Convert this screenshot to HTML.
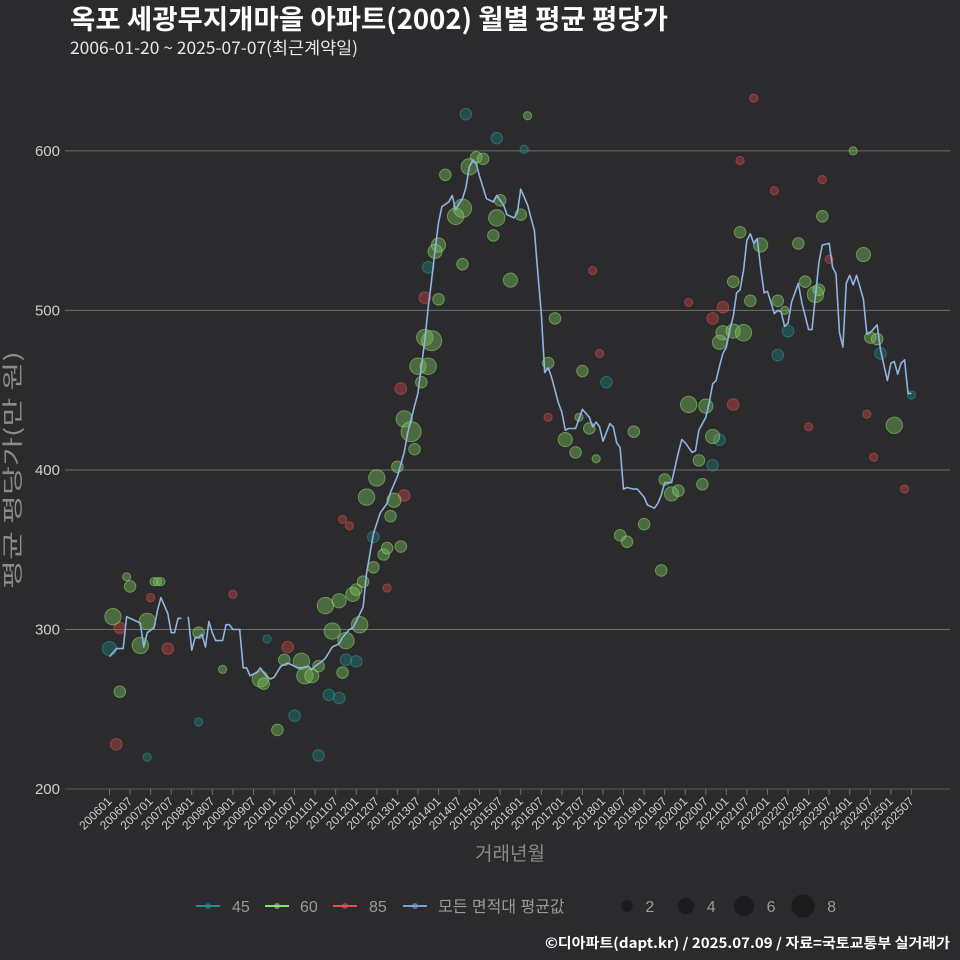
<!DOCTYPE html>
<html><head><meta charset="utf-8">
<style>
html,body{margin:0;padding:0;background:#2b2a2c;}
svg{display:block;font-family:"Liberation Sans","Noto Sans CJK KR",sans-serif;}
</style></head>
<body>
<svg id="chart" width="960" height="960" viewBox="0 0 960 960">
<rect x="0" y="0" width="960" height="960" fill="#2b2a2c"/>
<text x="70" y="29" fill="#ffffff" font-size="27" font-weight="bold" textLength="598" lengthAdjust="spacingAndGlyphs" font-family="Noto Sans CJK KR, sans-serif">옥포 세광무지개마을 아파트(2002) 월별 평균 평당가</text>
<text x="70" y="54" fill="#e8e8e8" font-size="17" textLength="288" lengthAdjust="spacingAndGlyphs" font-family="Noto Sans CJK KR, sans-serif">2006-01-20 ~ 2025-07-07(최근계약일)</text>
<g id="grid"></g>
<g id="xaxis"></g>
<g id="points"></g>
<g id="line"></g>
<text x="20" y="470" fill="#8a8a8a" font-size="21" text-anchor="middle" textLength="238" lengthAdjust="spacingAndGlyphs" transform="rotate(-90 20 470)" font-family="Noto Sans CJK KR, sans-serif">평균 평당가(만 원)</text>
<text x="510" y="860" fill="#8a8a8a" font-size="19" text-anchor="middle" font-family="Noto Sans CJK KR, sans-serif">거래년월</text>
<g id="legend"></g>
<text x="950" y="948" fill="#ffffff" font-size="14" font-weight="bold" text-anchor="end" textLength="405" lengthAdjust="spacingAndGlyphs" font-family="Noto Sans CJK KR, sans-serif">©디아파트(dapt.kr) / 2025.07.09 / 자료=국토교통부 실거래가</text>
</svg>
<script>
// ---- data ----
const yTicks = [200, 300, 400, 500, 600];
const xTickLabels = ["200601","200607","200701","200707","200801","200807","200901","200907","201001","201007","201101","201107","201201","201207","201301","201307","201401","201407","201501","201507","201601","201607","201701","201707","201801","201807","201901","201907","202001","202007","202101","202107","202201","202207","202301","202307","202401","202407","202501","202507"];
// average line: month offset from 2006-01, value (null = gap)
const lineMonths = [0,2,4,5,7,9,10,11,13,14,15,17,18,19,20,21,22,23,24,25,26,27,28,29,30,31,33,34,35,36,38,39,40,41,43,44,46,47,48,50,52,53,55,56,58,59,60,62,63,65,67,68,70,71,72,74,75,77,79,81,82,84,86,87,89,90,91,92,93,94,95,96,97,99,100,101,102,103,104,105,106,107,108,110,112,113,115,116,118,119,120,121,122,124,125,126,127,128,129,131,132,133,134,136,138,140,141,142,143,144,146,147,148,149,150,151,153,154,156,157,159,160,161,162,164,166,167,168,170,171,172,174,175,176,177,178,179,180,181,182,183,184,185,186,187,188,189,190,191,192,194,195,196,197,198,199,201,202,204,205,207,208,210,211,212,213,214,215,216,217,218,220,221,222,224,225,227,228,229,230,231,232,233,234];
const lineValues = [283,288,288,308,306,304,289,298,301,312,320,310,298,298,307,307,null,308,287,295,295,297,289,305,298,293,293,303,303,300,300,276,276,271,273,276,270,269,270,277,279,278,276,276,277,275,277,280,282,289,291,295,300,301,305,314,335,360,373,379,386,396,411,423,440,448,465,481,502,519,538,555,565,568,572,563,567,570,577,590,594,592,584,570,568,572,566,560,558,561,576,571,566,550,523,498,461,464,458,442,436,425,426,426,438,433,427,430,427,418,429,427,417,414,388,389,388,388,383,378,376,379,384,392,392,411,419,417,411,412,425,433,442,454,456,465,473,477,488,496,511,513,525,544,548,542,545,527,511,512,498,500,499,490,492,505,517,505,488,488,530,541,542,527,523,486,477,517,522,516,522,507,485,486,491,475,456,467,468,460,467,469,448,448];
// scatter: size group 45
const p45Months = [0,11,26,46,54,61,64,67,69,72,77,93,104,113,121,145,176,178,195,198,225,234];
const p45Values = [288,220,242,294,246,221,259,257,281,280,358,527,623,608,601,455,403,419,472,487,473,447];
const p45Counts = [3,1,1,1,2,2,2,2,2,2,2,2,2,2,1,2,2,2,2,2,2,1];
// size group 60
const p60Months = [1,3,6,5,11,9,13,14,15,26,33,44,45,49,51,56,57,59,61,63,65,67,68,69,71,72,73,74,75,77,78,80,81,82,83,84,85,86,88,89,90,91,92,94,93,96,96,95,98,101,103,103,105,107,109,112,113,114,117,120,122,128,130,133,136,137,138,140,142,149,151,153,156,161,162,164,166,169,172,174,173,176,178,179,182,185,184,182,187,190,195,197,201,203,206,207,208,220,222,224,229,217];
const p60Values = [308,261,327,333,305,290,330,330,330,298,275,269,266,237,281,280,271,271,277,315,299,318,273,293,322,325,303,330,383,339,395,347,351,371,381,402,352,432,424,413,465,455,483,481,465,507,541,537,585,559,564,529,590,596,595,547,558,569,519,560,622,467,495,419,411,433,462,426,407,359,355,424,366,337,394,385,387,441,406,440,391,421,480,486,487,486,549,518,506,541,506,500,542,518,510,513,559,535,483,482,428,600];
const p60Counts = [4,2,2,1,4,4,1,1,1,2,1,4,2,2,2,4,4,3,2,4,4,3,2,4,3,2,4,2,4,2,4,2,2,2,3,2,2,4,6,2,4,2,4,6,4,2,3,3,2,4,5,2,4,2,2,2,4,2,3,2,1,2,2,3,2,1,2,2,1,2,2,2,2,2,2,3,2,4,2,3,2,3,3,3,3,4,2,2,2,3,2,1,2,2,4,2,2,3,2,2,4,1];
// size group 85
const p85Months = [2,3,17,12,36,52,68,70,81,86,85,92,128,141,143,169,176,179,182,184,188,194,208,210,204,221,223,232];
const p85Values = [228,301,288,320,322,289,369,365,326,384,451,508,433,525,473,505,495,502,441,594,633,575,582,532,427,435,408,388];
const p85Counts = [2,2,2,1,1,2,1,1,1,2,2,2,1,1,1,1,2,2,2,1,1,1,1,1,1,1,1,1];
const legendSizes = [2,4,6,8];

// ---- scales ----
const X0 = 109.5, XSTEP = 3.427;
function xScale(m){ return X0 + m*XSTEP; }
function yScale(v){ return 789 - (v-200)*1.5953; }
function rScale(n){ return 4.1*Math.sqrt(n); }
const NS = "http://www.w3.org/2000/svg";
function mk(tag, attrs, parent){ const e=document.createElementNS(NS,tag); for(const k in attrs) e.setAttribute(k,attrs[k]); parent.appendChild(e); return e; }

const grid = document.getElementById('grid');
yTicks.forEach(t=>{
  const y = yScale(t);
  const l = mk('line',{x1:65,x2:950,y1:y,y2:y,stroke:t===200?'#5a5a5a':'#6e6e6e','stroke-width':1},grid);
  
  
  const tx = mk('text',{x:60,y:y+5,fill:'#cfcfcf','font-size':15,'text-anchor':'end'},grid);
  tx.textContent = t;
  
  
});
const xg = document.getElementById('xaxis');
xTickLabels.forEach((lab,i)=>{
  const x = xScale(i*6);
  const tk = mk('line',{x1:x,x2:x,y1:789,y2:795,stroke:'#6e6e6e'},xg);
  
  
  const tx = mk('text',{x:x+3,y:802,fill:'#cfcfcf','font-size':12,'text-anchor':'end',transform:`rotate(-45 ${x+3} 802)`},xg);
  tx.textContent = lab;
  
  
});
const pg = document.getElementById('points');
function drawPts(ms, vs, ns, fill, stroke, name){
  ms.forEach((m,i)=>{
    const c = mk('circle',{cx:xScale(m),cy:yScale(vs[i]),r:rScale(ns[i]),fill:fill,'fill-opacity':0.42,stroke:stroke,'stroke-opacity':0.5,'stroke-width':1},pg);
    
    
  });
}
drawPts(p45Months,p45Values,p45Counts,'#1f7f7f','#2aa3a0','point-45');
drawPts(p85Months,p85Values,p85Counts,'#c84545','#e05656','point-85');
drawPts(p60Months,p60Values,p60Counts,'#79c35a','#9be07c','point-60');
const lg = document.getElementById('line');
let d='', pen=false;
lineMonths.forEach((m,i)=>{
  const v=lineValues[i];
  if(v===null){pen=false;return;}
  d += (pen?'L':'M')+xScale(m).toFixed(1)+' '+yScale(v).toFixed(1)+' ';
  pen=true;
});
const path = mk('path',{d:d,fill:'none',stroke:'#8fb4e0','stroke-width':1.6,'stroke-linejoin':'round'},lg);


const leg = document.getElementById('legend');
const legItems = [['45','#1f8f8c',196,232],['60','#8ee06a',265,300],['85','#e05050',333,369],['모든 면적대 평균값','#7aa0d0',403,438]];
legItems.forEach(it=>{
  const g = mk('g',{},leg);
  
  
  mk('line',{x1:it[2],x2:it[2]+24,y1:906,y2:906,stroke:it[1],'stroke-width':2},g);
  mk('circle',{cx:it[2]+12,cy:906,r:3,fill:it[1],'fill-opacity':0.6},g);
  const t = mk('text',{x:it[3],y:912,fill:'#9a9a9a','font-size':16},g);
  t.textContent = it[0];
});
const sizeX = [627,686,744,803];
legendSizes.forEach((s,i)=>{
  const g = mk('g',{},leg);
  
  
  mk('circle',{cx:sizeX[i],cy:906,r:rScale(s),fill:'#1c1b1d'},g);
  const t = mk('text',{x:sizeX[i]+rScale(s)+17,y:912,fill:'#9a9a9a','font-size':16,'text-anchor':'middle'},g);
  t.textContent = s;
});
</script>
</body></html>
